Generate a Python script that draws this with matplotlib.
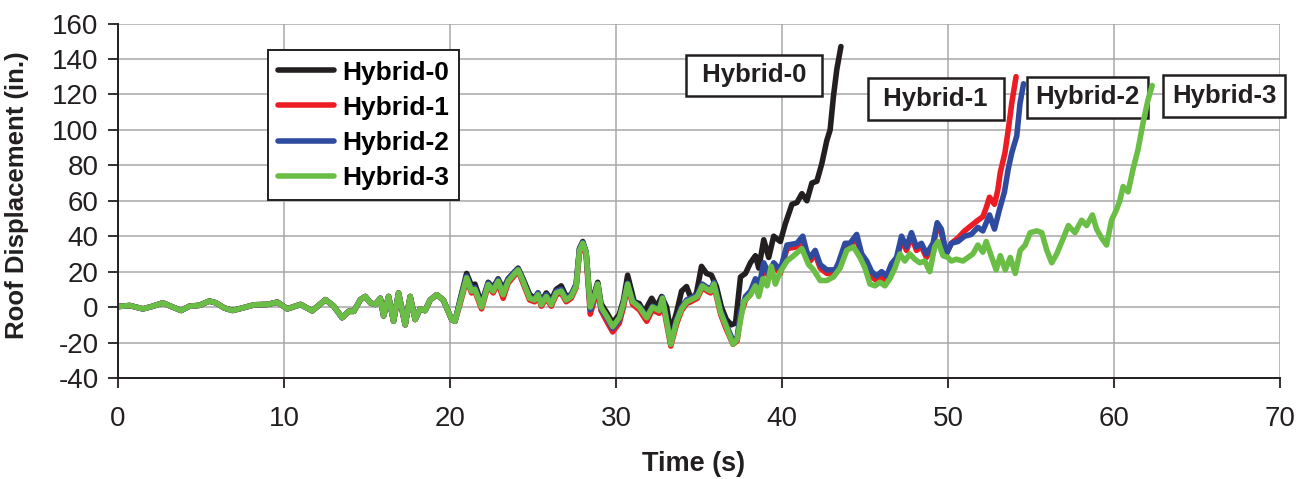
import matplotlib
matplotlib.use("Agg")
import matplotlib.pyplot as plt

plt.rcParams['font.family'] = ['Liberation Sans', 'DejaVu Sans']
plt.rcParams['axes.unicode_minus'] = False

# ---- data (time in s, roof displacement in in.) ----
# common record for all four models up to ~20 s
t_early = [0.0, 0.7, 1.5, 2.1, 2.7, 3.3, 3.8, 4.3, 4.9, 5.5, 5.9, 6.4, 6.9, 7.5, 8.2, 9.0, 9.6, 10.2,
           11.0, 11.7, 12.5, 13.0, 13.5, 13.9, 14.2, 14.6, 14.9, 15.2, 15.5, 15.8, 16.0, 16.3, 16.6,
           16.9, 17.3, 17.6, 17.9, 18.2, 18.5, 18.8, 19.2, 19.6, 20.1, 20.3]
y_early = [0.3, 0.9, -1.0, 0.5, 2.4, 0.0, -1.9, 0.5, 1.0, 3.4, 2.4, -0.5, -1.9, -0.5, 1.3, 1.5, 2.8, -1.0,
           1.5, -2.1, 4.2, 0.5, -6.0, -2.4, -2.4, 4.2, 6.0, 2.4, 1.5, 5.0, -5.0, 6.0, -8.0,
           8.0, -10.0, 6.0, -7.0, -1.0, -2.0, 4.0, 7.0, 4.0, -7.0, -8.0]

# Hybrid-0
t_h0 = [20.6, 21.0, 21.3, 21.5, 21.9, 22.3, 22.6, 22.9, 23.2, 23.5,
        23.9, 24.1, 24.4, 24.8, 25.1, 25.3, 25.5, 25.8, 26.1, 26.4,
        26.7, 27.0, 27.3, 27.6, 27.8, 28.0, 28.2, 28.45, 28.7, 28.9,
        29.1, 29.5, 29.8, 30.2, 30.45, 30.7, 31.1, 31.4, 31.7, 32.15,
        32.45, 32.75, 33.05, 33.3, 33.65, 33.95, 34.25, 34.55, 34.85, 35.15,
        35.45, 35.75, 36.05, 36.35, 36.65, 36.95, 37.2, 37.5, 37.8, 38.1,
        38.4, 38.6, 38.9, 39.2, 39.5, 39.9, 40.2, 40.6, 40.9, 41.2,
        41.5, 41.8, 42.1, 42.4, 42.7, 42.9, 43.1, 43.3, 43.55]
y_h0 = [4, 19, 12, 13, 2, 14, 11, 16, 10, 16,
        20, 22, 16, 7, 5, 8, 3, 8, 4, 10,
        12, 6, 7, 13, 33, 37, 31, 1, 8, 14,
        2, -4, -9, -4, 4, 18, 3, 2, -3, 5,
        0, 6, 0, -14, -3, 9, 11.6, 4, 8, 23,
        19, 18, 11.6, 0, -7, -10, -9, 17, 19, 25,
        29, 22, 38, 28, 40, 37, 47, 58, 59, 64,
        60, 70, 71, 81, 94, 100, 119, 134, 147]

# shared time grid 20.6 - 37.05 s for Hybrid-1/2/3
t_mid = [20.6, 21.0, 21.3, 21.5, 21.9, 22.3, 22.6, 22.9, 23.2, 23.5,
         23.9, 24.1, 24.4, 24.8, 25.1, 25.3, 25.5, 25.8, 26.1, 26.4,
         26.7, 27.0, 27.3, 27.6, 27.8, 28.0, 28.2, 28.45, 28.7, 28.9,
         29.1, 29.5, 29.8, 30.2, 30.45, 30.7, 31.0, 31.4, 31.85, 32.2,
         32.6, 32.8, 33.05, 33.3, 33.65, 33.95, 34.25, 34.5, 34.9, 35.2,
         35.5, 35.7, 35.9, 36.3, 36.6, 37.05]

# Hybrid-1
y_h1_mid = [1.5, 15.5, 8, 9, -1, 12, 8, 13.5, 5, 13.5,
            18, 20.5, 13.5, 4, 3, 6, 0.5, 5, 0.5, 7,
            8, 3, 5, 11, 31, 35.5, 29, -4, 4, 11,
            -2, -9, -14, -9, 0, 12, 1.5, -1.5, -8, -1.5,
            -3.5, 3.5, -9.5, -22, -9.5, -2, 2, 3, 5, 11,
            9, 8, 12, -4, -11.5, -21]
t_h1_late = [37.3, 37.5, 37.8, 38.1, 38.4, 38.6, 38.9, 39.2, 39.5, 39.9,
             40.3, 40.9, 41.25, 41.5, 41.7, 42.0, 42.3, 42.7, 43.2, 43.4,
             43.8, 44.1, 44.5, 44.8, 45.1, 45.4, 45.7, 46.0, 46.3, 46.6,
             46.9, 47.2, 47.5, 47.8, 48.1, 48.4, 48.7, 49.1, 49.35, 49.6,
             49.9, 50.2, 50.6, 51.0, 51.4, 51.8, 52.1, 52.3, 52.5, 52.8,
             53.0, 53.15, 53.43, 53.63, 53.84, 54.1]
y_h1_late = [-19, -5, 4, 7, 14, 9, 23, 17, 23, 19,
             33, 34, 38, 29, 26, 30, 22, 19, 19, 23,
             34, 34, 39, 28, 24, 17, 15, 17, 15, 22,
             26, 38, 32, 40, 32, 34, 28, 34, 46, 42,
             30, 36, 39, 43, 46, 49, 51, 56, 62, 58,
             66, 76, 87, 100, 115, 130]

# Hybrid-2
y_h2_mid = [3, 17.5, 10, 11, 1, 13.5, 10, 15.5, 8, 15.5,
            20, 21.5, 15, 5.5, 4.5, 8, 2.5, 7, 2.5, 9,
            10, 5, 7, 12.5, 33, 36.5, 31, -1.5, 6, 13,
            -1, -7, -12, -7, 2, 13.5, 3.5, 0.5, -5.5, 0.5,
            -1.5, 5.5, -7.5, -20, -7, 0, 4, 5, 7, 13,
            11, 10, 14, -2, -9, -19]
t_h2_late = [37.3, 37.5, 37.8, 38.1, 38.4, 38.6, 38.9, 39.2, 39.5, 39.9,
             40.3, 40.9, 41.25, 41.5, 41.7, 42.0, 42.3, 42.7, 43.2, 43.4,
             43.8, 44.1, 44.5, 44.8, 45.1, 45.4, 45.7, 46.0, 46.3, 46.6,
             46.9, 47.2, 47.5, 47.8, 48.1, 48.4, 48.7, 49.1, 49.35, 49.6,
             49.9, 50.2, 50.6, 51.0, 51.4, 51.8, 52.1, 52.5, 52.8, 53.1,
             53.4, 53.63, 53.84, 54.14, 54.34, 54.55]
y_h2_late = [-17, -3, 6, 9, 16, 11, 25, 19, 25, 21,
             35, 36, 40, 31, 28, 32, 24, 21, 21, 25,
             36, 36, 41, 30, 26, 20, 17.5, 20, 17.5, 24.5,
             28, 40, 34, 42, 34, 36, 30, 36, 47.6, 44,
             30, 36, 37, 40, 41, 45, 43, 52, 44, 55,
             65, 78, 87, 96.5, 115, 126]

# Hybrid-3
y_h3_mid = [2.4, 16.5, 9, 10, 0, 12.7, 9, 14.6, 7, 14.6,
            19, 21, 14.6, 5, 4, 7, 1.4, 6, 1.4, 8,
            9, 4, 6, 11.7, 32, 36, 30.6, 0, 6, 13,
            0, -6, -11, -6, 2, 13, 3, 0, -6, 0,
            -2, 5, -8, -21, -8, -1, 3, 4, 6, 12,
            10, 9, 13, -3, -10, -21]
t_h3_late = [37.3, 37.7, 38.1, 38.4, 38.6, 38.85, 39.1, 39.35, 39.6, 39.9,
             40.3, 40.7, 41.2, 41.6, 41.9, 42.3, 42.7, 43.1, 43.5, 43.9,
             44.3, 44.7, 45.0, 45.3, 45.6, 45.9, 46.2, 46.5, 46.8, 47.1,
             47.4, 47.7, 48.0, 48.3, 48.6, 48.9, 49.2, 49.4, 49.7, 50.0,
             50.2, 50.5, 50.9, 51.2, 51.5, 51.8, 52.1, 52.3, 52.6, 52.9,
             53.15, 53.45, 53.75, 54.05, 54.35, 54.65, 54.95, 55.35, 55.65, 55.95,
             56.25, 56.55, 56.95, 57.25, 57.65, 58.05, 58.35, 58.7, 58.95, 59.25,
             59.55, 59.85, 60.15, 60.35, 60.55, 60.85, 61.15, 61.45, 61.75, 62.05,
             62.3]
y_h3_late = [-18, 3, 7, 12, 6, 16, 12, 23, 13, 20,
             26, 29, 33, 24, 21, 15, 15, 17, 22, 32,
             34, 28, 22, 13, 12, 14, 12, 16, 22, 30,
             26, 30, 27, 25, 26, 20, 34, 37, 29, 28,
             26, 27, 26, 28, 30, 35, 31, 37, 29, 21,
             29, 21, 28, 19, 32, 35, 42, 43, 42, 32,
             25, 30, 39, 46, 42, 49, 46, 52, 44, 39,
             35, 49, 55, 60, 68, 65, 78, 89, 104, 117,
             125]

series_names = ["Hybrid-0", "Hybrid-1", "Hybrid-2", "Hybrid-3"]
series_colors = ["#231f20", "#ed1c24", "#2e4b9f", "#6abd45"]

x_ticks = [0, 10, 20, 30, 40, 50, 60, 70]
y_ticks = [-40, -20, 0, 20, 40, 60, 80, 100, 120, 140, 160]

# end-of-record labels: (text, x, y)
end_labels = [("Hybrid-0", 38.3, 130.7), ("Hybrid-1", 49.25, 117.5),
              ("Hybrid-2", 58.4, 118.3), ("Hybrid-3", 66.65, 119.1)]
wide_box = [True, True, False, False]

series_t = [t_early + t_h0,
            t_early + t_mid + t_h1_late,
            t_early + t_mid + t_h2_late,
            t_early + t_mid + t_h3_late]
series_y = [y_early + y_h0,
            y_early + y_h1_mid + y_h1_late,
            y_early + y_h2_mid + y_h2_late,
            y_early + y_h3_mid + y_h3_late]

# ---- figure ----
fig = plt.figure(figsize=(13.07, 4.79), dpi=100)
ax = fig.add_axes([118 / 1307, 1 - 378 / 479, 1162 / 1307, 354.5 / 479])

for t, y, name, c in zip(series_t, series_y, series_names, series_colors):
    ax.plot(t, y, color=c, lw=4.0, label=name, solid_joinstyle='round',
            solid_capstyle='round', zorder=3)

ax.set_xlim(0, 70)
ax.set_ylim(-40, 160)
ax.set_xticks(x_ticks)
ax.set_yticks(y_ticks)
ax.grid(True, color='#a8a8a8', lw=1.1, zorder=0)
for s in ['top', 'right']:
    ax.spines[s].set_visible(False)
for s in ['left', 'bottom']:
    ax.spines[s].set_color('#231f20')
    ax.spines[s].set_linewidth(1.4)
    ax.spines[s].set_zorder(4)

ax.tick_params(axis='both', direction='out', length=7, width=1.3, color='#231f20',
               labelsize=20, labelcolor='#231f20')
ax.tick_params(axis='x', pad=13)
ax.tick_params(axis='y', pad=7)

ax.set_xlabel("Time (s)", fontsize=19.5, fontweight='bold', color='#231f20')
ax.set_ylabel("Roof Displacement (in.)", fontsize=18.5, fontweight='bold', color='#231f20')
ax.xaxis.set_label_coords(0.495, -0.205)
ax.yaxis.set_label_coords(-0.077, 0.515)

leg = ax.legend(loc='upper left', bbox_to_anchor=(0.129, 0.925), borderaxespad=0,
                fancybox=False, framealpha=1, edgecolor='#231f20',
                prop={'family': 'Liberation Sans', 'weight': 'bold', 'size': 19},
                handlelength=2.1, handletextpad=0.3, labelspacing=0.42,
                borderpad=0.4)
leg.get_frame().set_linewidth(1.4)
for h in leg.get_lines():
    h.set_linewidth(4.0)

for (txt, x, y), wide in zip(end_labels, wide_box):
    shown = " " + txt + " " if wide else txt
    ax.text(x, y, shown, ha='center', va='center', fontsize=18.5,
            fontweight='bold', color='#231f20', zorder=2.5, clip_on=False,
            bbox=dict(boxstyle='square,pad=0.34', facecolor='white',
                      edgecolor='#231f20', lw=1.8))

fig.savefig("out.png", dpi=100)
